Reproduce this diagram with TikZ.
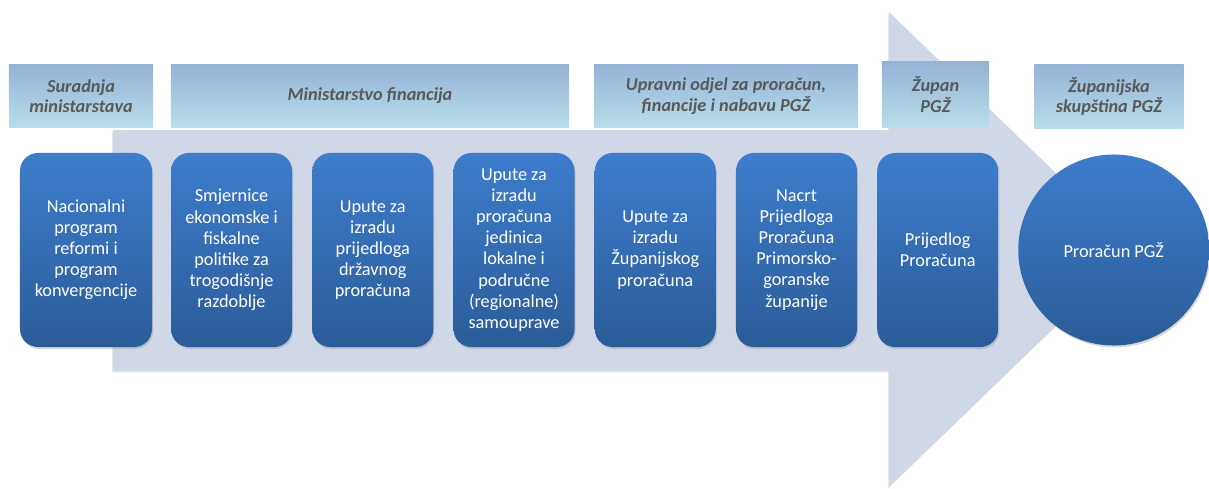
\documentclass[tikz,border=0pt]{standalone}
\usepackage{fontspec}
\setmainfont{Carlito}
\usepackage{tikz}
\usetikzlibrary{shadows}
\definecolor{arrowfill}{RGB}{208,216,232}
\definecolor{steptop}{RGB}{61,125,204}
\definecolor{stepbottom}{RGB}{43,92,152}
\definecolor{headtop}{RGB}{149,179,215}
\definecolor{headbottom}{RGB}{183,222,232}
\definecolor{headtext}{RGB}{89,89,89}
\newcommand{\widthstep}{3.025cm}
\newcommand{\widthfirst}{3.3cm}
\newcommand{\heightstep}{4.85cm}
\newcommand{\pitchfirst}{3.6375cm}
\newcommand{\pitchstep}{3.53cm}
\newcommand{\heighthead}{1.575cm}
\tikzset{
    common/.style={align=center, inner sep=2pt, font=\fontsize{13}{15}\selectfont},
    stepbox/.style={common, rectangle, rounded corners=0.45cm, text=white,
        minimum width=\widthstep, minimum height=\heightstep,
        top color=steptop, bottom color=stepbottom,
        drop shadow={shadow xshift=0.8pt, shadow yshift=-1.4pt, opacity=0.3}},
    goal/.style={common, circle, text=white, minimum size=4.775cm,
        top color=steptop, bottom color=stepbottom,
        drop shadow={shadow xshift=0.8pt, shadow yshift=-1.4pt, opacity=0.3}},
    headbox/.style={common, rectangle, text=headtext,
        font=\fontsize{13}{14.5}\selectfont\bfseries\itshape,
        minimum height=\heighthead, top color=headtop, bottom color=headbottom},
    backarrow/.style={fill=arrowfill,
        drop shadow={shadow xshift=-0.6pt, shadow yshift=-1pt, opacity=0.2}}
}

\begin{document}
\begin{tikzpicture}[x=0.025cm, y=-0.025cm]
    \useasboundingbox (0,0) rectangle (1209,488);

    % the big arrow behind everything
    \fill[backarrow] (113,130) -- (889,130) -- (889,12) -- (1135,249.5)
        -- (889,487) -- (889,371) -- (113,371) -- cycle;

    % who is responsible
    \path
        (81,96) node[headbox, minimum width=3.6cm] (H-suradnja) {Suradnja\\ministarstava}
        (370,96) node[headbox, minimum width=9.95cm] (H-ministarstvo) {Ministarstvo financija}
        (726,96) node[headbox, minimum width=6.6cm] (H-odjel) {Upravni odjel za proračun,\\financije i nabavu PGŽ}
        (935.5,94.5) node[headbox, minimum width=2.675cm, minimum height=1.625cm] (H-zupan) {Župan\\PGŽ}
        (1109,96.5) node[headbox, minimum width=3.725cm] (H-skupstina) {Županijska\\skupština PGŽ};

    % steps of the budget procedure
    \path
        (86,250) node[stepbox, minimum width=\widthfirst] (S1)
            {Nacionalni\\program\\reformi i\\program\\konvergencije}
        to ++(0:\pitchfirst) node[stepbox] (S2)
            {Smjernice\\ekonomske i\\fiskalne\\politike za\\trogodišnje\\razdoblje}
        to ++(0:\pitchstep) node[stepbox] (S3)
            {Upute za\\izradu\\prijedloga\\državnog\\proračuna}
        to ++(0:\pitchstep) node[stepbox] (S4)
            {Upute za\\izradu\\proračuna\\jedinica\\lokalne i\\područne\\(regionalne)\\samouprave}
        to ++(0:\pitchstep) node[stepbox] (S5)
            {Upute za\\izradu\\Županijskog\\proračuna}
        to ++(0:\pitchstep) node[stepbox] (S6)
            {Nacrt\\Prijedloga\\Proračuna\\Primorsko-\\goranske\\županije}
        to ++(0:\pitchstep) node[stepbox] (S7)
            {Prijedlog\\Proračuna}
        to ++(0:4.4cm) node[goal] (budget) {Proračun PGŽ};
\end{tikzpicture}
\end{document}
